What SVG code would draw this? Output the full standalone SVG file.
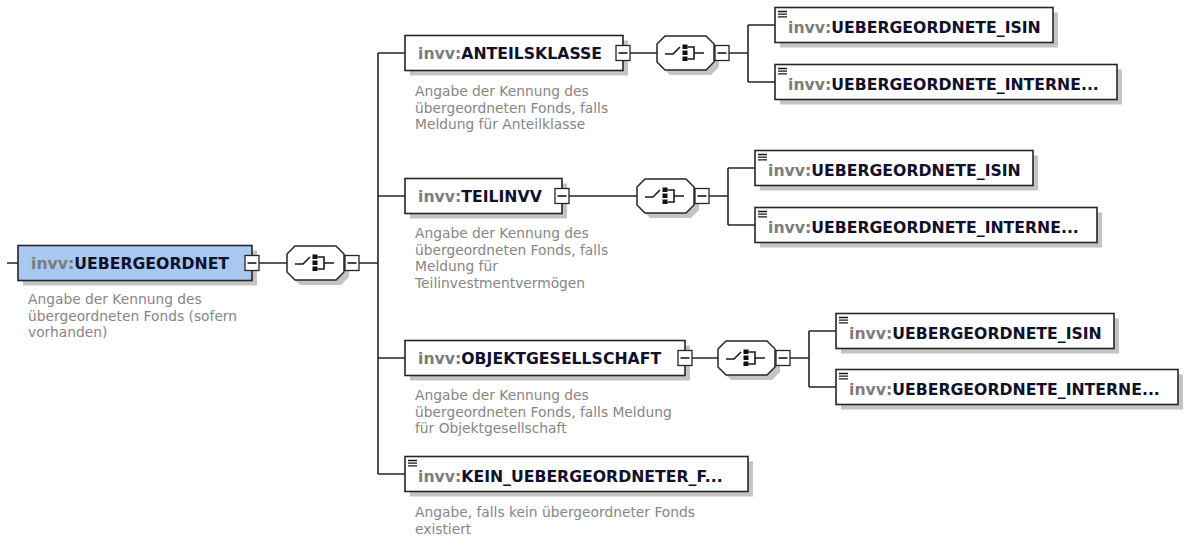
<svg xmlns="http://www.w3.org/2000/svg" width="1187" height="539" viewBox="0 0 1187 539">
<style>
.bg{fill:#fff}
.box{fill:#fff;stroke:#262626;stroke-width:1.6}
.rootbox{fill:#a8c8f0;stroke:#262626;stroke-width:1.6}
.shadow{fill:#c4c4c4}
.conn{fill:none;stroke:#262626;stroke-width:1.6}
.btn{fill:#fff;stroke:#262626;stroke-width:1.3}
.oct{fill:#fff;stroke:#262626;stroke-width:1.5}
.icon{fill:none;stroke:#1a1a1a;stroke-width:1.6}
.lbl{font-family:"DejaVu Sans",sans-serif;font-size:15.7px;font-weight:bold;fill:#10102a}
.pfx{fill:#7c7c7c}
.desc{font-family:"DejaVu Sans",sans-serif;font-size:13.8px;fill:#868686}
</style>
<defs>
  <g id="minus">
    <rect class="btn" x="-7" y="-7.5" width="14" height="15"/>
    <path class="icon" d="M-4.5,0H4.5"/>
  </g>
  <g id="choice">
    <polygon class="shadow" points="5,-4 13,-12 54,-12 62,-4 62,14 54,22 13,22 5,14"/>
    <polygon class="oct" points="0,-9 8,-17 49,-17 57,-9 57,9 49,17 8,17 0,9"/>
    <path class="icon" d="M8,1H16L23,-6M30.5,-6H37V6H30.5M37,0H47"/>
    <rect x="25.5" y="-8.5" width="5" height="4.5" fill="#111"/>
    <rect x="25.5" y="-2.5" width="5" height="4.5" fill="#111"/>
    <rect x="25.5" y="3.5" width="5" height="4.5" fill="#111"/>
    <use href="#minus" x="65" y="0"/>
  </g>
  <path id="leafIcon" class="icon" d="M3,4H12M3,6.7H12M3,9.4H12" style="stroke-width:1.3"/>
</defs>
<rect class="bg" x="0" y="0" width="1187" height="539"/>

<g id="connectors">
  <path class="conn" d="M7,263H18M259,263H287M359,263H378M378,53V474M378,53H405M378,196H405M378,358H405M378,474H405"/>
  <path class="conn" d="M630,53H657M729,53H748M748,25V82M748,25H775M748,82H775"/>
  <path class="conn" d="M569,196H637M709,196H728M728,168V225M728,168H755M728,225H755"/>
  <path class="conn" d="M692,358H718M790,358H809M809,331V387M809,331H836M809,387H836"/>
</g>

<g id="node-root">
  <rect class="shadow" x="23" y="250.5" width="234" height="35"/>
  <rect class="rootbox" x="18" y="245.5" width="234" height="35"/>
  <text class="lbl" x="31" y="268.5"><tspan class="pfx">invv:</tspan>UEBERGEORDNET</text>
  <use href="#minus" x="252" y="263"/>
  <text class="desc" x="28" y="304"><tspan x="28">Angabe der Kennung des</tspan><tspan x="28" dy="16.5">übergeordneten Fonds (sofern</tspan><tspan x="28" dy="16.5">vorhanden)</tspan></text>
</g>
<g id="choice-root"><use href="#choice" x="287" y="263"/></g>

<g id="node-anteilsklasse">
  <rect class="shadow" x="410" y="40.5" width="218" height="35"/>
  <rect class="box" x="405" y="35.5" width="218" height="35"/>
  <text class="lbl" x="418" y="58.5"><tspan class="pfx">invv:</tspan>ANTEILSKLASSE</text>
  <use href="#minus" x="623" y="53"/>
  <text class="desc" x="415" y="96"><tspan x="415">Angabe der Kennung des</tspan><tspan x="415" dy="16.5">übergeordneten Fonds, falls</tspan><tspan x="415" dy="16.5">Meldung für Anteilklasse</tspan></text>
</g>
<g id="choice-anteilsklasse"><use href="#choice" x="657" y="53"/></g>
<g id="node-ak-isin">
  <rect class="shadow" x="780" y="12.5" width="278" height="35"/>
  <rect class="box" x="775" y="7.5" width="278" height="35"/>
  <use href="#leafIcon" x="775" y="7.5"/>
  <text class="lbl" x="788" y="33"><tspan class="pfx">invv:</tspan>UEBERGEORDNETE_ISIN</text>
</g>
<g id="node-ak-interne">
  <rect class="shadow" x="780" y="69.5" width="342" height="35"/>
  <rect class="box" x="775" y="64.5" width="342" height="35"/>
  <use href="#leafIcon" x="775" y="64.5"/>
  <text class="lbl" x="788" y="90"><tspan class="pfx">invv:</tspan>UEBERGEORDNETE_INTERNE...</text>
</g>

<g id="node-teilinvv">
  <rect class="shadow" x="410" y="183.5" width="157" height="35"/>
  <rect class="box" x="405" y="178.5" width="157" height="35"/>
  <text class="lbl" x="418" y="201.5"><tspan class="pfx">invv:</tspan>TEILINVV</text>
  <use href="#minus" x="562" y="196"/>
  <text class="desc" x="415" y="238"><tspan x="415">Angabe der Kennung des</tspan><tspan x="415" dy="16.5">übergeordneten Fonds, falls</tspan><tspan x="415" dy="16.5">Meldung für</tspan><tspan x="415" dy="16.5">Teilinvestmentvermögen</tspan></text>
</g>
<g id="choice-teilinvv"><use href="#choice" x="637" y="196"/></g>
<g id="node-ti-isin">
  <rect class="shadow" x="760" y="155.5" width="278" height="35"/>
  <rect class="box" x="755" y="150.5" width="278" height="35"/>
  <use href="#leafIcon" x="755" y="150.5"/>
  <text class="lbl" x="768" y="176"><tspan class="pfx">invv:</tspan>UEBERGEORDNETE_ISIN</text>
</g>
<g id="node-ti-interne">
  <rect class="shadow" x="760" y="212.5" width="342" height="35"/>
  <rect class="box" x="755" y="207.5" width="342" height="35"/>
  <use href="#leafIcon" x="755" y="207.5"/>
  <text class="lbl" x="768" y="233"><tspan class="pfx">invv:</tspan>UEBERGEORDNETE_INTERNE...</text>
</g>

<g id="node-objektgesellschaft">
  <rect class="shadow" x="410" y="345.5" width="280" height="35"/>
  <rect class="box" x="405" y="340.5" width="280" height="35"/>
  <text class="lbl" x="418" y="363.5"><tspan class="pfx">invv:</tspan>OBJEKTGESELLSCHAFT</text>
  <use href="#minus" x="685" y="358"/>
  <text class="desc" x="415" y="400"><tspan x="415">Angabe der Kennung des</tspan><tspan x="415" dy="16.5">übergeordneten Fonds, falls Meldung</tspan><tspan x="415" dy="16.5">für Objektgesellschaft</tspan></text>
</g>
<g id="choice-objektgesellschaft"><use href="#choice" x="718" y="358"/></g>
<g id="node-og-isin">
  <rect class="shadow" x="841" y="318.5" width="278" height="35"/>
  <rect class="box" x="836" y="313.5" width="278" height="35"/>
  <use href="#leafIcon" x="836" y="313.5"/>
  <text class="lbl" x="849" y="339"><tspan class="pfx">invv:</tspan>UEBERGEORDNETE_ISIN</text>
</g>
<g id="node-og-interne">
  <rect class="shadow" x="841" y="374.5" width="342" height="35"/>
  <rect class="box" x="836" y="369.5" width="342" height="35"/>
  <use href="#leafIcon" x="836" y="369.5"/>
  <text class="lbl" x="849" y="395"><tspan class="pfx">invv:</tspan>UEBERGEORDNETE_INTERNE...</text>
</g>

<g id="node-kein">
  <rect class="shadow" x="410" y="461.5" width="343" height="35"/>
  <rect class="box" x="405" y="456.5" width="343" height="35"/>
  <use href="#leafIcon" x="405" y="456.5"/>
  <text class="lbl" x="418" y="482"><tspan class="pfx">invv:</tspan>KEIN_UEBERGEORDNETER_F...</text>
  <text class="desc" x="415" y="517"><tspan x="415">Angabe, falls kein übergeordneter Fonds</tspan><tspan x="415" dy="16.5">existiert</tspan></text>
</g>
</svg>
